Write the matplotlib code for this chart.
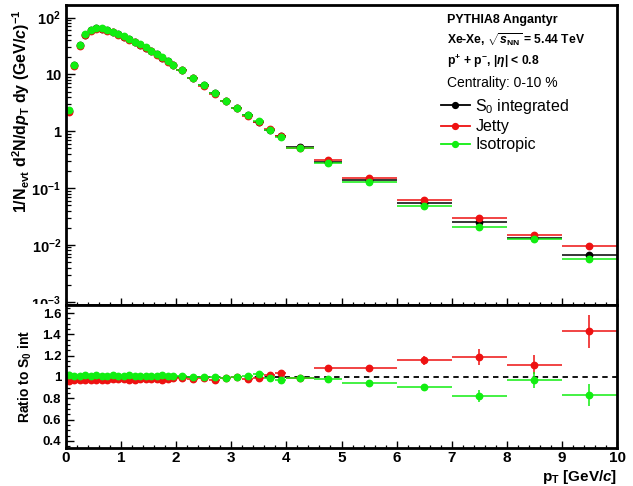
import matplotlib
matplotlib.use('Agg')
import matplotlib.pyplot as plt
from matplotlib.lines import Line2D
from matplotlib.ticker import MultipleLocator, LogLocator, NullFormatter
from matplotlib.transforms import Bbox, TransformedBbox
import numpy as np

plt.rcParams['font.family'] = ['Liberation Sans', 'DejaVu Sans']
plt.rcParams['mathtext.fontset'] = 'custom'
plt.rcParams['mathtext.rm'] = 'Liberation Sans:bold'
plt.rcParams['mathtext.it'] = 'Liberation Sans:bold:italic'
plt.rcParams['mathtext.bf'] = 'Liberation Sans:bold'
plt.rcParams['mathtext.sf'] = 'Liberation Sans'

# pT binning
pt_edges = [0.0, 0.1, 0.2, 0.3, 0.4, 0.5, 0.6, 0.7, 0.8, 0.9, 1.0,
            1.1, 1.2, 1.3, 1.4, 1.5, 1.6, 1.7, 1.8, 1.9, 2.0,
            2.2, 2.4, 2.6, 2.8, 3.0, 3.2, 3.4, 3.6, 3.8, 4.0,
            4.5, 5.0, 6.0, 7.0, 8.0, 9.0, 10.0]

# spectra 1/Nevt d2N/dpT dy
s0_integrated = [2.3, 14.5, 33.0, 50.0, 61.0, 65.0, 64.0, 60.0, 56.0, 51.5,
                 46.5, 42.0, 37.5, 33.5, 29.8, 26.0, 22.7, 19.8, 17.0, 14.8,
                 12.1, 8.7, 6.4, 4.7, 3.45, 2.55, 1.92, 1.46, 1.07, 0.81,
                 0.52, 0.285, 0.137, 0.0537, 0.0249, 0.0132, 0.00677]
jetty = [2.22, 14.07, 32.2, 48.75, 59.2, 63.4, 62.4, 58.5, 54.9, 50.5,
         45.6, 40.95, 36.6, 32.8, 29.1, 25.5, 22.2, 19.3, 16.7, 14.6,
         12.0, 8.53, 6.34, 4.58, 3.43, 2.54, 1.89, 1.44, 1.086, 0.842,
         0.517, 0.309, 0.148, 0.0621, 0.0296, 0.0147, 0.00969]
isotropic = [2.35, 14.7, 33.3, 50.75, 61.6, 66.0, 64.6, 60.6, 56.8, 52.0,
             47.0, 42.6, 37.9, 33.8, 30.2, 26.3, 22.9, 20.1, 17.2, 14.95,
             12.2, 8.7, 6.4, 4.68, 3.43, 2.55, 1.93, 1.50, 1.06, 0.79,
             0.515, 0.279, 0.129, 0.0488, 0.0205, 0.0128, 0.00563]

# statistical uncertainty on the ratios
jetty_ratio_err = [0.004, 0.004, 0.004, 0.004, 0.004, 0.004, 0.004, 0.004, 0.004, 0.004,
                   0.004, 0.004, 0.004, 0.004, 0.004, 0.004, 0.004, 0.004, 0.004, 0.004,
                   0.005, 0.005, 0.006, 0.006, 0.007, 0.007, 0.008, 0.009, 0.010, 0.012,
                   0.010, 0.012, 0.015, 0.040, 0.075, 0.090, 0.155]
isotropic_ratio_err = [0.004, 0.004, 0.004, 0.004, 0.004, 0.004, 0.004, 0.004, 0.004, 0.004,
                       0.004, 0.004, 0.004, 0.004, 0.004, 0.004, 0.004, 0.004, 0.004, 0.004,
                       0.005, 0.005, 0.006, 0.006, 0.007, 0.007, 0.008, 0.009, 0.010, 0.012,
                       0.010, 0.012, 0.015, 0.030, 0.058, 0.073, 0.103]

edges = np.array(pt_edges)
pt = 0.5 * (edges[1:] + edges[:-1])
pt_hw = 0.5 * (edges[1:] - edges[:-1])
s0 = np.array(s0_integrated)
jet = np.array(jetty)
iso = np.array(isotropic)

BLACK = '#000000'
RED = '#ee1111'
GREEN = '#11ee11'

fig = plt.figure(figsize=(6.33, 4.86), dpi=100)
W, H = 633.0, 486.0
ax1 = fig.add_axes([66 / W, 1 - 305 / H, 551 / W, 300 / H])
ax2 = fig.add_axes([66 / W, 1 - 448 / H, 551 / W, 143 / H])

ekw = dict(fmt='o', ms=4.6, elinewidth=1.1, capsize=0, linestyle='none')

# spectra
for y, col in [(s0, BLACK), (jet, RED), (iso, GREEN)]:
    ax1.errorbar(pt, y, xerr=pt_hw, color=col, mec=col, mfc=col, **ekw)

ax1.set_yscale('log')
ax1.set_xlim(0, 10)
ax1.set_ylim(8.75e-4, 167)
ax1.set_yticks([1e-3, 1e-2, 1e-1, 1, 10, 100])
ax1.set_yticklabels(['10$^{-3}$', '10$^{-2}$', '10$^{-1}$', '1', '10', '10$^{2}$'])
ax1.yaxis.set_minor_locator(LogLocator(base=10, subs=np.arange(2, 10)))
ax1.yaxis.set_minor_formatter(NullFormatter())
ax1.xaxis.set_major_locator(MultipleLocator(1))
ax1.xaxis.set_minor_locator(MultipleLocator(0.2))
ax1.tick_params(axis='x', labelbottom=False)
ax1.tick_params(axis='y', which='major', length=6.5, width=1.0, labelsize=10.5)
ax1.tick_params(axis='y', which='minor', length=3.3, width=0.9)
ax1.tick_params(axis='x', which='major', length=5.0, width=1.0)
ax1.tick_params(axis='x', which='minor', length=2.5, width=0.9)
ax1.tick_params(which='both', direction='in', top=False, right=False)

# ratios to S0 integrated
ax2.axhline(1.0, color='black', ls=(0, (3, 2.5)), lw=1.3, zorder=1)
ax2.errorbar(pt, jet / s0, xerr=pt_hw, yerr=jetty_ratio_err,
             color=RED, mec=RED, mfc=RED, **ekw)
ax2.errorbar(pt, iso / s0, xerr=pt_hw, yerr=isotropic_ratio_err,
             color=GREEN, mec=GREEN, mfc=GREEN, **ekw)
ax2.set_xlim(0, 10)
ax2.set_ylim(0.333, 1.676)
ax2.set_yticks([0.4, 0.6, 0.8, 1.0, 1.2, 1.4, 1.6])
ax2.set_yticklabels(['0.4', '0.6', '0.8', '1', '1.2', '1.4', '1.6'])
ax2.yaxis.set_minor_locator(MultipleLocator(0.05))
ax2.xaxis.set_major_locator(MultipleLocator(1))
ax2.xaxis.set_minor_locator(MultipleLocator(0.2))
ax2.tick_params(axis='y', which='major', length=6.0, width=1.0, labelsize=9.5)
ax2.tick_params(axis='y', which='minor', length=3.0, width=0.9)
ax2.tick_params(axis='x', which='major', length=5.0, width=1.0, labelsize=11, pad=2)
ax2.tick_params(axis='x', which='minor', length=2.5, width=0.9)
ax2.tick_params(which='both', direction='in', top=False, right=False)

for ax in (ax1, ax2):
    for sp in ax.spines.values():
        sp.set_linewidth(2.0)
    for lab in ax.get_xticklabels() + ax.get_yticklabels():
        lab.set_fontweight('bold')

# the upper pad cuts off its lowest tick label
upper_pad = TransformedBbox(Bbox([[0, 1 - 304 / H], [1, 1]]), fig.transFigure)
for lab in ax1.get_yticklabels():
    lab.set_clip_box(upper_pad)
    lab.set_clip_on(True)

# axis titles
fig.text(21 / W, 1 - 111 / H,
         r'1/N$_{\rm evt}$ d$^{2}$N/d$p_{\rm T}$ dy (GeV/$c$)$^{-1}$',
         rotation=90, ha='center', va='center', fontsize=11.5, fontweight='bold')
fig.text(25 / W, 1 - 376 / H, r'Ratio to S$_{0}$ int',
         rotation=90, ha='center', va='center', fontsize=10, fontweight='bold')
fig.text(617 / W, 1 - 477 / H, r'p$_{\rm T}$ [GeV/$c$]',
         ha='right', va='center', fontsize=11, fontweight='bold')

# header text
fig.text(447 / W, 1 - 20 / H, 'PYTHIA8 Angantyr', ha='left', va='center',
         fontsize=9, fontweight='bold')
fig.text(447 / W, 1 - 40 / H, r'Xe-Xe, $\sqrt{s_{\rm NN}}$ = 5.44 TeV',
         ha='left', va='center', fontsize=8.7, fontweight='bold')
fig.text(447 / W, 1 - 61 / H, r'p$^{+}$ + p$^{-}$, |$\eta$| < 0.8',
         ha='left', va='center', fontsize=8.7, fontweight='bold')
fig.text(447 / W, 1 - 83 / H, 'Centrality: 0-10 %', ha='left', va='center',
         fontsize=10)

handles = [Line2D([], [], color=c, marker='o', ms=4.2, lw=1.3) for c in (BLACK, RED, GREEN)]
leg = fig.legend(handles, [r'S$_{\mathsf{0}}$ integrated', 'Jetty', 'Isotropic'],
                 loc='upper left', bbox_to_anchor=(441 / W, 1 - 97 / H),
                 frameon=False, fontsize=11.5, handlelength=1.8, handletextpad=0.35,
                 labelspacing=0.2, borderpad=0, borderaxespad=0)

fig.savefig('out.png', dpi=100)
